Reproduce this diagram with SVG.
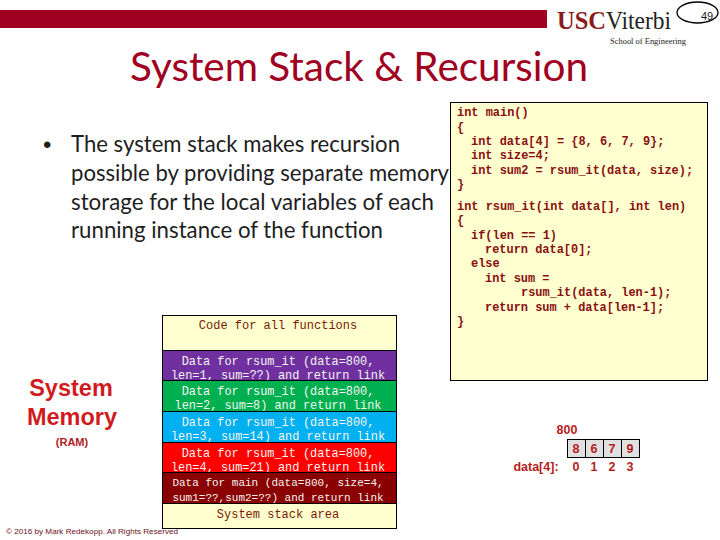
<svg xmlns="http://www.w3.org/2000/svg" width="720" height="540" viewBox="0 0 720 540">
<style>
.m{font-family:"Liberation Mono",monospace;font-size:11.9px;fill:#f4f4f0;text-anchor:middle}
.n{font-size:11px}
.c{font-family:"Liberation Mono",monospace;font-size:11.94px;font-weight:bold;fill:#8a0f0f}
.d{font-family:"Liberation Mono",monospace;font-size:12px;fill:#7a1a00;text-anchor:middle}
.b{font-family:"Lato",sans-serif;font-size:22.5px;fill:#1e1e1e}
.a{font-family:"Liberation Sans",sans-serif;font-size:12.5px;font-weight:bold;fill:#b81c1c;text-anchor:middle}
.box{stroke:#000;stroke-width:1}
</style>
<rect x="0" y="10" width="547" height="18" fill="#a00021"/>
<g id="logo">
<text x="557" y="29" font-family="Liberation Serif,serif" font-size="26" font-weight="bold" fill="#8c1c1c" textLength="49" lengthAdjust="spacingAndGlyphs">USC</text>
<text x="606" y="29" font-family="Liberation Serif,serif" font-size="26" fill="#222" textLength="65" lengthAdjust="spacingAndGlyphs">Viterbi</text>
<text x="610" y="44" font-family="Liberation Serif,serif" font-size="8" fill="#222" textLength="76" lengthAdjust="spacingAndGlyphs">School of Engineering</text>
</g>
<g id="page-number">
<ellipse cx="697.500" cy="12.500" rx="20.500" ry="10.500" fill="#fff" stroke="#000" stroke-width="1.300"/>
<text x="707" y="20" font-family="Liberation Sans,sans-serif" font-size="11" text-anchor="middle" fill="#222">49</text>
</g>
<text id="title" x="130" y="81" font-family="Lato,sans-serif" font-size="41" fill="#a00021" textLength="458" lengthAdjust="spacingAndGlyphs">System Stack &amp; Recursion</text>
<g id="bullet">
<text x="43" y="153" font-family="Liberation Sans,sans-serif" font-size="24" fill="#1e1e1e">•</text>
<text class="b" x="71" y="152" textLength="329" lengthAdjust="spacingAndGlyphs">The system stack makes recursion</text>
<text class="b" x="71" y="181" textLength="378" lengthAdjust="spacingAndGlyphs">possible by providing separate memory</text>
<text class="b" x="71" y="210" textLength="363" lengthAdjust="spacingAndGlyphs">storage for the local variables of each</text>
<text class="b" x="71" y="238" textLength="312" lengthAdjust="spacingAndGlyphs">running instance of the function</text>
</g>
<g id="code">
<rect class="box" x="450.500" y="102.500" width="257" height="278" fill="#ffffd0"/>
<text class="c" x="457" y="116">int main()</text>
<text class="c" x="457" y="131">{</text>
<text class="c" x="471" y="145">int data[4] = {8, 6, 7, 9};</text>
<text class="c" x="471" y="159">int size=4;</text>
<text class="c" x="471" y="174">int sum2 = rsum_it(data, size);</text>
<text class="c" x="457" y="188">}</text>
<text class="c" x="457" y="210">int rsum_it(int data[], int len)</text>
<text class="c" x="457" y="224">{</text>
<text class="c" x="471" y="239">if(len == 1)</text>
<text class="c" x="485" y="253">return data[0];</text>
<text class="c" x="471" y="267">else</text>
<text class="c" x="485" y="282">int sum =</text>
<text class="c" x="521" y="296">rsum_it(data, len-1);</text>
<text class="c" x="485" y="311">return sum + data[len-1];</text>
<text class="c" x="457" y="325">}</text>
</g>
<g id="memory-label" font-family="Liberation Sans,sans-serif" font-weight="bold" fill="#d01c1f" text-anchor="middle">
<text x="71" y="396" font-size="23.500">System</text>
<text x="72" y="425" font-size="23.500">Memory</text>
<text x="72" y="446" font-size="11" fill="#b01c24">(RAM)</text>
</g>
<g id="stack-code"><rect class="box" x="162.500" y="315.500" width="234" height="35" fill="#ffffd0"/><text class="d" x="278" y="329">Code for all functions</text></g>
<g id="frame1"><rect class="box" x="162.500" y="350.500" width="234" height="30" fill="#7030a0"/><text class="m" x="278" y="365">Data for rsum_it (data=800,</text><text class="m" x="278" y="379">len=1, sum=??) and return link</text></g>
<g id="frame2"><rect class="box" x="162.500" y="380.500" width="234" height="31" fill="#00b050"/><text class="m" x="278" y="395">Data for rsum_it (data=800,</text><text class="m" x="278" y="409">len=2, sum=8) and return link</text></g>
<g id="frame3"><rect class="box" x="162.500" y="411.500" width="234" height="31" fill="#00b0f0"/><text class="m" x="278" y="426">Data for rsum_it (data=800,</text><text class="m" x="278" y="440">len=3, sum=14) and return link</text></g>
<g id="frame4"><rect class="box" x="162.500" y="442.500" width="234" height="30" fill="#ff0000"/><text class="m" x="278" y="457">Data for rsum_it (data=800,</text><text class="m" x="278" y="471">len=4, sum=21) and return link</text></g>
<g id="frame5"><rect class="box" x="162.500" y="472.500" width="234" height="31" fill="#8a0000"/><text class="m n" x="278" y="486">Data for main (data=800, size=4,</text><text class="m n" x="278" y="501">sum1=??,sum2=??) and return link</text></g>
<g id="stack-area"><rect class="box" x="162.500" y="503.500" width="234" height="25" fill="#ffffd0"/><text class="d" x="278" y="518">System stack area</text></g>
<g id="array">
<text class="a" x="567" y="434">800</text>
<text class="a" x="536" y="471">data[4]:</text>
<g fill="#e0e0e0" stroke="#000"><rect x="567.500" y="439.500" width="18" height="18"/><rect x="585.500" y="439.500" width="18" height="18"/><rect x="603.500" y="439.500" width="18" height="18"/><rect x="621.500" y="439.500" width="18" height="18"/></g>
<text class="a" x="576" y="453">8</text><text class="a" x="594" y="453">6</text><text class="a" x="612" y="453">7</text><text class="a" x="630" y="453">9</text>
<text class="a" x="576" y="471">0</text><text class="a" x="594" y="471">1</text><text class="a" x="612" y="471">2</text><text class="a" x="630" y="471">3</text>
</g>
<text id="copyright" x="6" y="534" font-family="Liberation Sans,sans-serif" font-size="8" fill="#6b0f1a" textLength="172" lengthAdjust="spacingAndGlyphs">© 2016 by Mark Redekopp. All Rights Reserved</text>
</svg>
